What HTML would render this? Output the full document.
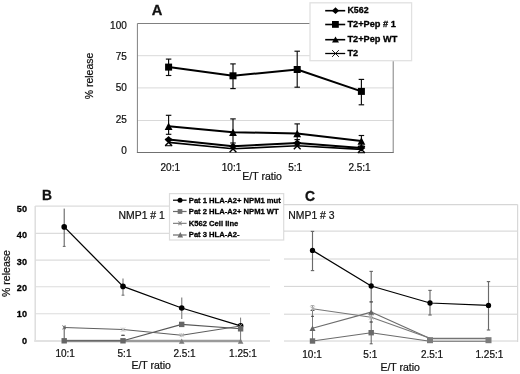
<!DOCTYPE html>
<html><head><meta charset="utf-8"><title>Figure</title>
<style>
html,body{margin:0;padding:0;background:#fff;}
body{width:520px;height:374px;overflow:hidden;font-family:"Liberation Sans",sans-serif;}
svg{display:block;filter:blur(0.42px);}
</style></head><body>
<svg width="520" height="374" viewBox="0 0 520 374" font-family="Liberation Sans, sans-serif">
<rect width="520" height="374" fill="#fff"/>
<line x1="137.4" y1="120.5" x2="393.2" y2="120.5" stroke="#d9d9d9" stroke-width="1" />
<line x1="137.4" y1="87.9" x2="393.2" y2="87.9" stroke="#d9d9d9" stroke-width="1" />
<line x1="137.4" y1="55.7" x2="393.2" y2="55.7" stroke="#d9d9d9" stroke-width="1" />
<line x1="137.4" y1="23.5" x2="393.2" y2="23.5" stroke="#808080" stroke-width="1" />
<line x1="393.2" y1="23.5" x2="393.2" y2="152.5" stroke="#808080" stroke-width="1" />
<line x1="137.4" y1="23.5" x2="137.4" y2="152.5" stroke="#808080" stroke-width="1" />
<line x1="136.9" y1="152.5" x2="393.7" y2="152.5" stroke="#707070" stroke-width="1.2" />
<text x="126.8" y="28.6" font-size="10" stroke="#111" stroke-width="0.22" text-anchor="end" fill="#111" >100</text>
<text x="126.8" y="60.0" font-size="10" stroke="#111" stroke-width="0.22" text-anchor="end" fill="#111" >75</text>
<text x="126.8" y="91.3" font-size="10" stroke="#111" stroke-width="0.22" text-anchor="end" fill="#111" >50</text>
<text x="126.8" y="122.5" font-size="10" stroke="#111" stroke-width="0.22" text-anchor="end" fill="#111" >25</text>
<text x="126.8" y="154.4" font-size="10" stroke="#111" stroke-width="0.22" text-anchor="end" fill="#111" >0</text>
<text transform="translate(92.7,76.0) rotate(-90)" font-size="10.45" text-anchor="middle" fill="#111" stroke="#111" stroke-width="0.22">% release</text>
<text x="151.75" y="14.65" font-size="14.7" font-weight="bold" stroke="#111" stroke-width="0.3" text-anchor="start" fill="#111" >A</text>
<text x="170.3" y="170.7" font-size="10" stroke="#111" stroke-width="0.22" text-anchor="middle" fill="#111" >20:1</text>
<text x="231.5" y="170.7" font-size="10" stroke="#111" stroke-width="0.22" text-anchor="middle" fill="#111" >10:1</text>
<text x="295.2" y="170.7" font-size="10" stroke="#111" stroke-width="0.22" text-anchor="middle" fill="#111" >5:1</text>
<text x="359.5" y="170.7" font-size="10" stroke="#111" stroke-width="0.22" text-anchor="middle" fill="#111" >2.5:1</text>
<text x="262.1" y="180.2" font-size="10.5" stroke="#111" stroke-width="0.22" text-anchor="middle" fill="#111" >E/T ratio</text>
<line x1="168.6" y1="59.1" x2="168.6" y2="75.5" stroke="#0a0a0a" stroke-width="1.15" />
<line x1="165.85" y1="59.1" x2="171.35" y2="59.1" stroke="#0a0a0a" stroke-width="1.15" />
<line x1="165.85" y1="75.5" x2="171.35" y2="75.5" stroke="#0a0a0a" stroke-width="1.15" />
<line x1="233.0" y1="63.9" x2="233.0" y2="88.6" stroke="#0a0a0a" stroke-width="1.15" />
<line x1="230.25" y1="63.9" x2="235.75" y2="63.9" stroke="#0a0a0a" stroke-width="1.15" />
<line x1="230.25" y1="88.6" x2="235.75" y2="88.6" stroke="#0a0a0a" stroke-width="1.15" />
<line x1="297.2" y1="51.2" x2="297.2" y2="87.2" stroke="#0a0a0a" stroke-width="1.15" />
<line x1="294.45" y1="51.2" x2="299.95" y2="51.2" stroke="#0a0a0a" stroke-width="1.15" />
<line x1="294.45" y1="87.2" x2="299.95" y2="87.2" stroke="#0a0a0a" stroke-width="1.15" />
<line x1="361.4" y1="79.4" x2="361.4" y2="104.8" stroke="#0a0a0a" stroke-width="1.15" />
<line x1="358.65" y1="79.4" x2="364.15" y2="79.4" stroke="#0a0a0a" stroke-width="1.15" />
<line x1="358.65" y1="104.8" x2="364.15" y2="104.8" stroke="#0a0a0a" stroke-width="1.15" />
<line x1="168.6" y1="115.3" x2="168.6" y2="134.3" stroke="#0a0a0a" stroke-width="1.15" />
<line x1="165.85" y1="115.3" x2="171.35" y2="115.3" stroke="#0a0a0a" stroke-width="1.15" />
<line x1="165.85" y1="134.3" x2="171.35" y2="134.3" stroke="#0a0a0a" stroke-width="1.15" />
<line x1="233.0" y1="118.9" x2="233.0" y2="143.0" stroke="#0a0a0a" stroke-width="1.15" />
<line x1="230.25" y1="118.9" x2="235.75" y2="118.9" stroke="#0a0a0a" stroke-width="1.15" />
<line x1="230.25" y1="143.0" x2="235.75" y2="143.0" stroke="#0a0a0a" stroke-width="1.15" />
<line x1="297.2" y1="123.9" x2="297.2" y2="139.6" stroke="#0a0a0a" stroke-width="1.15" />
<line x1="294.45" y1="123.9" x2="299.95" y2="123.9" stroke="#0a0a0a" stroke-width="1.15" />
<line x1="294.45" y1="139.6" x2="299.95" y2="139.6" stroke="#0a0a0a" stroke-width="1.15" />
<line x1="361.4" y1="135.5" x2="361.4" y2="146.0" stroke="#0a0a0a" stroke-width="1.15" />
<line x1="358.65" y1="135.5" x2="364.15" y2="135.5" stroke="#0a0a0a" stroke-width="1.15" />
<line x1="358.65" y1="146.0" x2="364.15" y2="146.0" stroke="#0a0a0a" stroke-width="1.15" />
<line x1="165.0" y1="145.70000000000002" x2="172.2" y2="145.70000000000002" stroke="#111" stroke-width="1.1" />
<line x1="357.79999999999995" y1="152.70000000000002" x2="365.0" y2="152.70000000000002" stroke="#111" stroke-width="1.1" />
<polyline points="168.6,67.1 233.0,75.8 297.2,69.5 361.4,91.4" fill="none" stroke="#000" stroke-width="2" stroke-linejoin="round" />
<polyline points="168.6,126.2 233.0,132.2 297.2,133.6 361.4,141.0" fill="none" stroke="#000" stroke-width="2" stroke-linejoin="round" />
<polyline points="168.6,139.6 233.0,146.2 297.2,143.0 361.4,148.0" fill="none" stroke="#000" stroke-width="2" stroke-linejoin="round" />
<polyline points="168.6,142.4 233.0,148.8 297.2,145.8 361.4,149.4" fill="none" stroke="#000" stroke-width="1.6" stroke-linejoin="round" />
<rect x="165.1" y="63.599999999999994" width="7" height="7" fill="#000"/>
<rect x="229.5" y="72.3" width="7" height="7" fill="#000"/>
<rect x="293.7" y="66.0" width="7" height="7" fill="#000"/>
<rect x="357.9" y="87.9" width="7" height="7" fill="#000"/>
<polygon points="168.6,122.45 172.5,129.95 164.7,129.95" fill="#000"/>
<polygon points="233.0,128.45 236.9,135.95 229.1,135.95" fill="#000"/>
<polygon points="297.2,129.85 301.09999999999997,137.35 293.3,137.35" fill="#000"/>
<polygon points="361.4,137.25 365.29999999999995,144.75 357.5,144.75" fill="#000"/>
<polygon points="168.6,136.1 172.5,139.6 168.6,143.1 164.7,139.6" fill="#000"/>
<polygon points="233.0,142.7 236.9,146.2 233.0,149.7 229.1,146.2" fill="#000"/>
<polygon points="297.2,139.5 301.09999999999997,143.0 297.2,146.5 293.3,143.0" fill="#000"/>
<polygon points="361.4,144.5 365.29999999999995,148.0 361.4,151.5 357.5,148.0" fill="#000"/>
<line x1="165.2" y1="139.0" x2="172.0" y2="145.8" stroke="#000" stroke-width="1.4" />
<line x1="165.2" y1="145.8" x2="172.0" y2="139.0" stroke="#000" stroke-width="1.4" />
<line x1="229.6" y1="145.4" x2="236.4" y2="152.20000000000002" stroke="#000" stroke-width="1.4" />
<line x1="229.6" y1="152.20000000000002" x2="236.4" y2="145.4" stroke="#000" stroke-width="1.4" />
<line x1="293.8" y1="142.4" x2="300.59999999999997" y2="149.20000000000002" stroke="#000" stroke-width="1.4" />
<line x1="293.8" y1="149.20000000000002" x2="300.59999999999997" y2="142.4" stroke="#000" stroke-width="1.4" />
<line x1="358.0" y1="146.0" x2="364.79999999999995" y2="152.8" stroke="#000" stroke-width="1.4" />
<line x1="358.0" y1="152.8" x2="364.79999999999995" y2="146.0" stroke="#000" stroke-width="1.4" />
<rect x="310" y="2.8" width="101.6" height="57.9" fill="#fff" stroke="#e1e1e1" stroke-width="1.3"/>
<line x1="325.2" y1="10.7" x2="345.2" y2="10.7" stroke="#000" stroke-width="1.6" />
<polygon points="335.5,7.299999999999999 339.1,10.7 335.5,14.1 331.9,10.7" fill="#000"/>
<text transform="translate(347.4,13.2) scale(0.935,1)" font-size="9.5" font-weight="bold" stroke="#000" stroke-width="0.3" text-anchor="start" fill="#000" >K562</text>
<line x1="325.2" y1="24.5" x2="345.2" y2="24.5" stroke="#000" stroke-width="1.6" />
<rect x="332.0" y="21.0" width="6.8" height="6.8" fill="#000"/>
<text transform="translate(347.4,27.0) scale(0.972,1)" font-size="9.5" font-weight="bold" stroke="#000" stroke-width="0.3" text-anchor="start" fill="#000" >T2+Pep # 1</text>
<line x1="325.2" y1="39.7" x2="345.2" y2="39.7" stroke="#000" stroke-width="1.6" />
<polygon points="335.5,36.5 339.0,42.5 332.0,42.5" fill="#000"/>
<text transform="translate(347.4,41.5) scale(0.972,1)" font-size="9.5" font-weight="bold" stroke="#000" stroke-width="0.3" text-anchor="start" fill="#000" >T2+Pep WT</text>
<line x1="325.2" y1="53.5" x2="345.2" y2="53.5" stroke="#000" stroke-width="1.3" />
<line x1="332.1" y1="50.1" x2="338.9" y2="56.9" stroke="#000" stroke-width="0.9" />
<line x1="332.1" y1="56.9" x2="338.9" y2="50.1" stroke="#000" stroke-width="0.9" />
<text transform="translate(347.4,55.5) scale(0.96,1)" font-size="9.5" font-weight="bold" stroke="#000" stroke-width="0.3" text-anchor="start" fill="#000" >T2</text>
<line x1="35.2" y1="313.7" x2="270.0" y2="313.7" stroke="#dcdcdc" stroke-width="1.1" />
<line x1="35.2" y1="286.8" x2="270.0" y2="286.8" stroke="#dcdcdc" stroke-width="1.1" />
<line x1="35.2" y1="260.1" x2="270.0" y2="260.1" stroke="#dcdcdc" stroke-width="1.1" />
<line x1="35.2" y1="233.4" x2="270.0" y2="233.4" stroke="#dcdcdc" stroke-width="1.1" />
<line x1="35.2" y1="206.1" x2="270.0" y2="206.1" stroke="#dcdcdc" stroke-width="1.2" />
<line x1="35.2" y1="206.1" x2="35.2" y2="341.0" stroke="#dcdcdc" stroke-width="1.4" />
<line x1="34.2" y1="341.0" x2="270.0" y2="341.0" stroke="#e2e2e2" stroke-width="2" />
<text transform="translate(27.0,211.95) scale(0.93,1)" font-size="9.8" font-weight="bold" stroke="#000" stroke-width="0.3" text-anchor="end" fill="#000" >50</text>
<text transform="translate(27.0,238.45) scale(0.93,1)" font-size="9.8" font-weight="bold" stroke="#000" stroke-width="0.3" text-anchor="end" fill="#000" >40</text>
<text transform="translate(27.0,264.85) scale(0.93,1)" font-size="9.8" font-weight="bold" stroke="#000" stroke-width="0.3" text-anchor="end" fill="#000" >30</text>
<text transform="translate(27.0,290.75) scale(0.93,1)" font-size="9.8" font-weight="bold" stroke="#000" stroke-width="0.3" text-anchor="end" fill="#000" >20</text>
<text transform="translate(27.0,317.45000000000005) scale(0.93,1)" font-size="9.8" font-weight="bold" stroke="#000" stroke-width="0.3" text-anchor="end" fill="#000" >10</text>
<text transform="translate(27.0,343.65000000000003) scale(0.93,1)" font-size="9.8" font-weight="bold" stroke="#000" stroke-width="0.3" text-anchor="end" fill="#000" >0</text>
<text transform="translate(10.1,273.5) rotate(-90)" font-size="10.55" text-anchor="middle" fill="#111" stroke="#111" stroke-width="0.22">% release</text>
<text x="42.0" y="200.1" font-size="13.8" font-weight="bold" stroke="#111" stroke-width="0.3" text-anchor="start" fill="#111" >B</text>
<text x="118.6" y="219.2" font-size="10.4" stroke="#111" stroke-width="0.22" text-anchor="start" fill="#111" >NMP1 # 1</text>
<text x="65.2" y="357.1" font-size="10" stroke="#111" stroke-width="0.22" text-anchor="middle" fill="#111" >10:1</text>
<text x="124.5" y="357.1" font-size="10" stroke="#111" stroke-width="0.22" text-anchor="middle" fill="#111" >5:1</text>
<text x="184.5" y="357.1" font-size="10" stroke="#111" stroke-width="0.22" text-anchor="middle" fill="#111" >2.5:1</text>
<text x="243.0" y="357.1" font-size="10" stroke="#111" stroke-width="0.22" text-anchor="middle" fill="#111" >1.25:1</text>
<text x="151.2" y="369.3" font-size="10.5" stroke="#111" stroke-width="0.22" text-anchor="middle" fill="#111" >E/T ratio</text>
<line x1="64.2" y1="208.6" x2="64.2" y2="246.4" stroke="#555" stroke-width="1" />
<line x1="62.800000000000004" y1="246.4" x2="65.60000000000001" y2="246.4" stroke="#666" stroke-width="1" />
<line x1="123.0" y1="278.6" x2="123.0" y2="295.0" stroke="#959595" stroke-width="1.4" />
<line x1="181.7" y1="297.4" x2="181.7" y2="319.0" stroke="#959595" stroke-width="1.4" />
<line x1="240.6" y1="317.6" x2="240.6" y2="341.0" stroke="#777" stroke-width="1.0" />
<line x1="123.0" y1="295.2" x2="123.0" y2="295.2" stroke="#888" stroke-width="1" />
<line x1="121.7" y1="295.2" x2="124.3" y2="295.2" stroke="#888" stroke-width="1" />
<line x1="121.7" y1="295.2" x2="124.3" y2="295.2" stroke="#888" stroke-width="1" />
<line x1="64.2" y1="327.4" x2="64.2" y2="341" stroke="#555" stroke-width="1" />
<line x1="123.0" y1="335.4" x2="123.0" y2="335.4" stroke="#555" stroke-width="1.2" />
<line x1="121.5" y1="335.4" x2="124.5" y2="335.4" stroke="#555" stroke-width="1.2" />
<line x1="121.5" y1="335.4" x2="124.5" y2="335.4" stroke="#555" stroke-width="1.2" />
<polyline points="64.2,226.9 123.0,286.4 181.7,308.0 240.6,325.8" fill="none" stroke="#000" stroke-width="1.3" stroke-linejoin="round" />
<circle cx="64.2" cy="226.9" r="2.8" fill="#000"/>
<circle cx="123.0" cy="286.4" r="2.8" fill="#000"/>
<circle cx="181.7" cy="308.0" r="2.8" fill="#000"/>
<circle cx="240.6" cy="325.8" r="2.8" fill="#000"/>
<polyline points="64.2,341.0 123.0,341.0 181.7,341.0 240.6,341.0" fill="none" stroke="#9a9a9a" stroke-width="2.3" stroke-linejoin="round" />
<polyline points="64.2,340.8 123.0,340.8 181.7,324.4 240.6,328.8" fill="none" stroke="#585858" stroke-width="1.1" stroke-linejoin="round" />
<polyline points="64.2,327.4 123.0,329.6 181.7,335.2 240.6,326.0" fill="none" stroke="#5e5e5e" stroke-width="1.05" stroke-linejoin="round" />
<line x1="62.400000000000006" y1="325.59999999999997" x2="66.0" y2="329.2" stroke="#666" stroke-width="1" />
<line x1="62.400000000000006" y1="329.2" x2="66.0" y2="325.59999999999997" stroke="#666" stroke-width="1" />
<line x1="64.2" y1="325.59999999999997" x2="64.2" y2="329.2" stroke="#666" stroke-width="1" />
<line x1="121.0" y1="327.6" x2="125.0" y2="331.6" stroke="#bdbdbd" stroke-width="1" />
<line x1="121.0" y1="331.6" x2="125.0" y2="327.6" stroke="#bdbdbd" stroke-width="1" />
<line x1="123.0" y1="327.6" x2="123.0" y2="331.6" stroke="#bdbdbd" stroke-width="1" />
<line x1="179.7" y1="333.2" x2="183.7" y2="337.2" stroke="#bdbdbd" stroke-width="1" />
<line x1="179.7" y1="337.2" x2="183.7" y2="333.2" stroke="#bdbdbd" stroke-width="1" />
<line x1="181.7" y1="333.2" x2="181.7" y2="337.2" stroke="#bdbdbd" stroke-width="1" />
<line x1="239.1" y1="323.9" x2="242.1" y2="326.9" stroke="#8a8a8a" stroke-width="0.9" />
<line x1="239.1" y1="326.9" x2="242.1" y2="323.9" stroke="#8a8a8a" stroke-width="0.9" />
<rect x="61.5" y="338.1" width="5.4" height="5.4" fill="#666"/>
<rect x="120.3" y="338.1" width="5.4" height="5.4" fill="#666"/>
<rect x="179.0" y="321.7" width="5.4" height="5.4" fill="#666"/>
<rect x="237.9" y="326.1" width="5.4" height="5.4" fill="#666"/>
<polygon points="181.7,338.40000000000003 184.5,343.8 178.89999999999998,343.8" fill="#7c7c7c"/>
<polygon points="240.6,338.40000000000003 243.4,343.8 237.79999999999998,343.8" fill="#7c7c7c"/>
<rect x="169.5" y="193.6" width="114.2" height="46.4" fill="#fff" stroke="#dcdcdc" stroke-width="1.2"/>
<line x1="173.0" y1="200.2" x2="186.6" y2="200.2" stroke="#000" stroke-width="1.2" />
<circle cx="180.0" cy="200.2" r="2.5" fill="#000"/>
<text transform="translate(188.8,202.6) scale(0.965,1)" font-size="7.9" font-weight="bold" stroke="#000" stroke-width="0.3" text-anchor="start" fill="#000" >Pat 1 HLA-A2+ NPM1 mut</text>
<line x1="173.0" y1="211.5" x2="186.6" y2="211.5" stroke="#6a6a6a" stroke-width="1.2" />
<rect x="177.65" y="209.15" width="4.7" height="4.7" fill="#707070"/>
<text transform="translate(188.8,213.9) scale(0.965,1)" font-size="7.9" font-weight="bold" stroke="#000" stroke-width="0.3" text-anchor="start" fill="#000" >Pat 2 HLA-A2+ NPM1 WT</text>
<line x1="173.0" y1="223.3" x2="186.6" y2="223.3" stroke="#6a6a6a" stroke-width="1.0" />
<line x1="178.2" y1="221.5" x2="181.8" y2="225.10000000000002" stroke="#808080" stroke-width="1" />
<line x1="178.2" y1="225.10000000000002" x2="181.8" y2="221.5" stroke="#808080" stroke-width="1" />
<line x1="180.0" y1="221.5" x2="180.0" y2="225.10000000000002" stroke="#808080" stroke-width="1" />
<text transform="translate(188.8,225.6) scale(0.965,1)" font-size="7.9" font-weight="bold" stroke="#000" stroke-width="0.3" text-anchor="start" fill="#000" >K562 Cell line</text>
<line x1="173.0" y1="235.0" x2="186.6" y2="235.0" stroke="#6a6a6a" stroke-width="1.2" />
<polygon points="180.3,231.89999999999998 183.10000000000002,237.5 177.5,237.5" fill="#707070"/>
<text transform="translate(188.8,237.1) scale(0.965,1)" font-size="7.9" font-weight="bold" stroke="#000" stroke-width="0.3" text-anchor="start" fill="#000" >Pat 3 HLA-A2-</text>
<line x1="284.0" y1="314.2" x2="517.6" y2="314.2" stroke="#c6c6c6" stroke-width="0.8" />
<line x1="284.0" y1="286.4" x2="517.6" y2="286.4" stroke="#c6c6c6" stroke-width="0.8" />
<line x1="284.0" y1="259.0" x2="517.6" y2="259.0" stroke="#c6c6c6" stroke-width="0.8" />
<line x1="284.0" y1="231.1" x2="517.6" y2="231.1" stroke="#c6c6c6" stroke-width="0.8" />
<line x1="284.0" y1="341.0" x2="517.6" y2="341.0" stroke="#c6c6c6" stroke-width="0.8" />
<line x1="284.0" y1="204.6" x2="517.6" y2="204.6" stroke="#d6d6d6" stroke-width="1.2" />
<line x1="517.6" y1="204.6" x2="517.6" y2="342.0" stroke="#d8d8d8" stroke-width="1.2" />
<text x="304.9" y="201.1" font-size="13.9" font-weight="bold" stroke="#111" stroke-width="0.3" text-anchor="start" fill="#111" >C</text>
<text x="288.3" y="218.6" font-size="10.4" stroke="#111" stroke-width="0.22" text-anchor="start" fill="#111" >NMP1 # 3</text>
<text x="312.0" y="358.3" font-size="10" stroke="#111" stroke-width="0.22" text-anchor="middle" fill="#111" >10:1</text>
<text x="370.3" y="358.3" font-size="10" stroke="#111" stroke-width="0.22" text-anchor="middle" fill="#111" >5:1</text>
<text x="432.0" y="358.3" font-size="10" stroke="#111" stroke-width="0.22" text-anchor="middle" fill="#111" >2.5:1</text>
<text x="489.4" y="358.3" font-size="10" stroke="#111" stroke-width="0.22" text-anchor="middle" fill="#111" >1.25:1</text>
<text x="400.2" y="371.1" font-size="10.5" stroke="#111" stroke-width="0.22" text-anchor="middle" fill="#111" >E/T ratio</text>
<line x1="312.5" y1="231.4" x2="312.5" y2="270.6" stroke="#6a6a6a" stroke-width="1.15" />
<line x1="310.8" y1="231.4" x2="314.2" y2="231.4" stroke="#6a6a6a" stroke-width="1.15" />
<line x1="310.8" y1="270.6" x2="314.2" y2="270.6" stroke="#6a6a6a" stroke-width="1.15" />
<line x1="371.2" y1="271.4" x2="371.2" y2="301.9" stroke="#6a6a6a" stroke-width="1.15" />
<line x1="369.5" y1="271.4" x2="372.9" y2="271.4" stroke="#6a6a6a" stroke-width="1.15" />
<line x1="369.5" y1="301.9" x2="372.9" y2="301.9" stroke="#6a6a6a" stroke-width="1.15" />
<line x1="430.0" y1="290.4" x2="430.0" y2="315.0" stroke="#6a6a6a" stroke-width="1.15" />
<line x1="428.3" y1="290.4" x2="431.7" y2="290.4" stroke="#6a6a6a" stroke-width="1.15" />
<line x1="428.3" y1="315.0" x2="431.7" y2="315.0" stroke="#6a6a6a" stroke-width="1.15" />
<line x1="488.5" y1="281.6" x2="488.5" y2="330.0" stroke="#6a6a6a" stroke-width="1.15" />
<line x1="486.8" y1="281.6" x2="490.2" y2="281.6" stroke="#6a6a6a" stroke-width="1.15" />
<line x1="486.8" y1="330.0" x2="490.2" y2="330.0" stroke="#6a6a6a" stroke-width="1.15" />
<line x1="312.5" y1="305.8" x2="312.5" y2="341" stroke="#787878" stroke-width="0.95" />
<line x1="310.7" y1="305.7" x2="314.3" y2="305.7" stroke="#a0a0a0" stroke-width="1" />
<line x1="310.7" y1="310.4" x2="314.3" y2="310.4" stroke="#444" stroke-width="1.1" />
<line x1="311.0" y1="316.3" x2="314.0" y2="316.3" stroke="#444" stroke-width="1" />
<line x1="371.2" y1="301.9" x2="371.2" y2="343.8" stroke="#505050" stroke-width="0.9" />
<line x1="369.7" y1="301.9" x2="372.7" y2="301.9" stroke="#505050" stroke-width="0.9" />
<line x1="369.7" y1="343.8" x2="372.7" y2="343.8" stroke="#505050" stroke-width="0.9" />
<line x1="371.2" y1="322" x2="371.2" y2="322" stroke="#555" stroke-width="0.9" />
<line x1="369.7" y1="322" x2="372.7" y2="322" stroke="#555" stroke-width="0.9" />
<line x1="369.7" y1="322" x2="372.7" y2="322" stroke="#555" stroke-width="0.9" />
<polyline points="312.5,341.0 371.2,332.7 430.0,341.3 488.5,341.3" fill="none" stroke="#6c6c6c" stroke-width="1.1" stroke-linejoin="round" />
<polyline points="312.5,328.3 371.2,312.1 430.0,338.6 488.5,338.6" fill="none" stroke="#6c6c6c" stroke-width="1.15" stroke-linejoin="round" />
<polyline points="312.5,308.7 371.2,317.3 430.0,338.3 488.5,338.3" fill="none" stroke="#777" stroke-width="1.1" stroke-linejoin="round" />
<polyline points="312.5,250.4 371.2,286.0 430.0,303.0 488.5,305.4" fill="none" stroke="#000" stroke-width="1.25" stroke-linejoin="round" />
<line x1="310.3" y1="306.5" x2="314.7" y2="310.9" stroke="#b0b0b0" stroke-width="1" />
<line x1="310.3" y1="310.9" x2="314.7" y2="306.5" stroke="#b0b0b0" stroke-width="1" />
<line x1="312.5" y1="306.5" x2="312.5" y2="310.9" stroke="#b0b0b0" stroke-width="1" />
<line x1="369.0" y1="315.1" x2="373.4" y2="319.5" stroke="#b0b0b0" stroke-width="1" />
<line x1="369.0" y1="319.5" x2="373.4" y2="315.1" stroke="#b0b0b0" stroke-width="1" />
<line x1="371.2" y1="315.1" x2="371.2" y2="319.5" stroke="#b0b0b0" stroke-width="1" />
<polygon points="312.5,325.6 315.5,331.0 309.5,331.0" fill="#666"/>
<polygon points="371.2,309.40000000000003 374.2,314.8 368.2,314.8" fill="#666"/>
<rect x="309.8" y="338.3" width="5.4" height="5.4" fill="#6a6a6a"/>
<rect x="368.5" y="330.0" width="5.4" height="5.4" fill="#6a6a6a"/>
<rect x="427.0" y="337.2" width="6.0" height="6.0" fill="#7c7c7c"/>
<rect x="485.5" y="337.2" width="6.0" height="6.0" fill="#7c7c7c"/>
<circle cx="312.5" cy="250.4" r="2.65" fill="#000"/>
<circle cx="371.2" cy="286.0" r="2.65" fill="#000"/>
<circle cx="430.0" cy="303.0" r="2.65" fill="#000"/>
<circle cx="488.5" cy="305.4" r="2.65" fill="#000"/>
</svg>
</body></html>
